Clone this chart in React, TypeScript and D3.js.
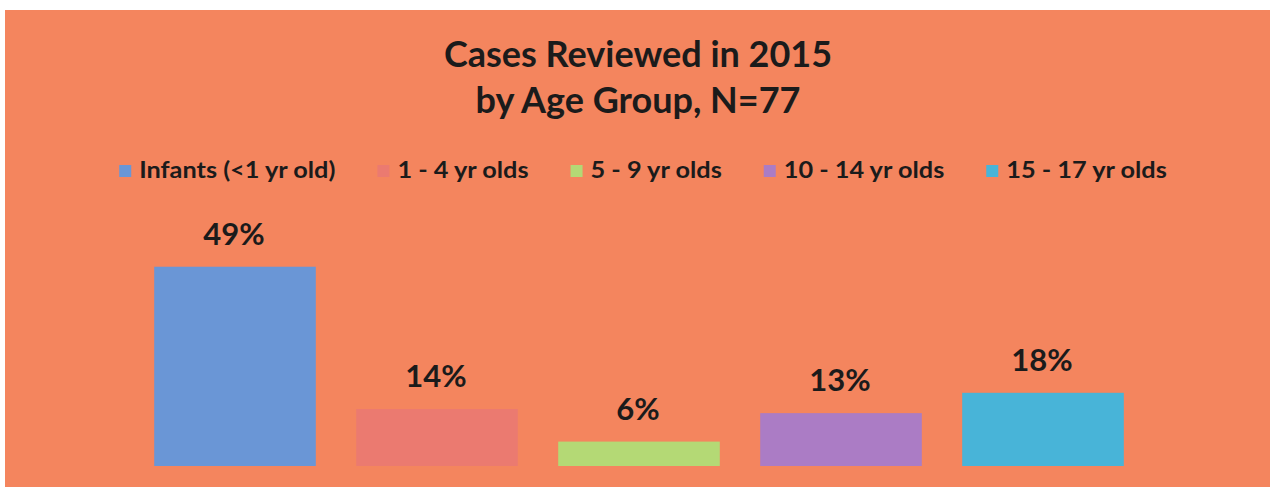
import React, { useEffect, useRef } from "react";
import * as d3 from "d3";

const categories = ["Infants (<1 yr old)", "1 - 4 yr olds", "5 - 9 yr olds", "10 - 14 yr olds", "15 - 17 yr olds"];
const percents = [49, 14, 6, 13, 18];
const colors = ["#6A96D6", "#EB7A70", "#B4D975", "#AB7CC5", "#48B4D8"];
const titleLines = ["Cases Reviewed in 2015", "by Age Group, N=77"];

const W = 1272;
const H = 487;
const BG = "#F4855E";
const FONT = "Lato, 'Open Sans', sans-serif";
const INK = "#1b1b1b";

export default function App() {
  const ref = useRef<SVGSVGElement | null>(null);

  useEffect(() => {
    const svg = d3.select(ref.current);
    svg.selectAll("*").remove();

    svg.append("rect").attr("x", 0).attr("y", 0).attr("width", W).attr("height", H).attr("fill", "#ffffff");
    svg.append("rect").attr("x", 5).attr("y", 10).attr("width", W - 7).attr("height", H - 10).attr("fill", BG);

    // Title
    const title = svg.append("g");
    titleLines.forEach((t, i) => {
      title.append("text")
        .attr("x", 638)
        .attr("y", 67 + i * 46)
        .attr("text-anchor", "middle")
        .attr("font-family", FONT)
        .attr("font-weight", 700)
        .attr("font-size", 36)
        .attr("fill", INK)
        .text(t);
    });

    // Scales
    const x = d3.scaleBand<string>().domain(categories).range([134, 1144]).paddingInner(0.2).paddingOuter(0.1);
    const y = d3.scaleLinear().domain([0, 60]).range([466, 222]);

    // Bars
    svg.append("g").selectAll("rect").data(categories).join("rect")
      .attr("x", (d) => x(d)!)
      .attr("y", (_d, i) => y(percents[i]))
      .attr("width", x.bandwidth())
      .attr("height", (_d, i) => y(0) - y(percents[i]))
      .attr("fill", (_d, i) => colors[i]);

    // Labels
    svg.append("g").selectAll("text").data(categories).join("text")
      .attr("x", (d) => x(d)! + x.bandwidth() / 2 - 1)
      .attr("y", (_d, i) => y(percents[i]) - 22)
      .attr("text-anchor", "middle")
      .attr("font-family", FONT)
      .attr("font-weight", 700)
      .attr("font-size", 31)
      .attr("fill", INK)
      .text((_d, i) => `${percents[i]}%`);

    // Legend
    const sx = 1.1;
    const legend = svg.append("g");
    const items = categories.map((c, i) => {
      const g = legend.append("g");
      g.append("rect").attr("x", 0).attr("y", -13).attr("width", 12).attr("height", 12).attr("fill", colors[i]);
      const t = g.append("text")
        .attr("transform", `translate(20,0) scale(${sx},1)`)
        .attr("font-family", FONT)
        .attr("font-weight", 700)
        .attr("font-size", 23)
        .attr("fill", INK)
        .text(c);
      const w = (t.node() as SVGTextElement).getComputedTextLength() * sx;
      return { g, width: 20 + w };
    });
    const gap = 42;
    const total = d3.sum(items, (d) => d.width) + gap * (items.length - 1);
    let cx = 643 - total / 2;
    items.forEach((it) => {
      it.g.attr("transform", `translate(${cx},178)`);
      cx += it.width + gap;
    });
  }, []);

  return (
    <svg
      ref={ref}
      width={W}
      height={H}
      style={{ position: "absolute", left: 0, top: 0, display: "block" }}
    />
  );
}
